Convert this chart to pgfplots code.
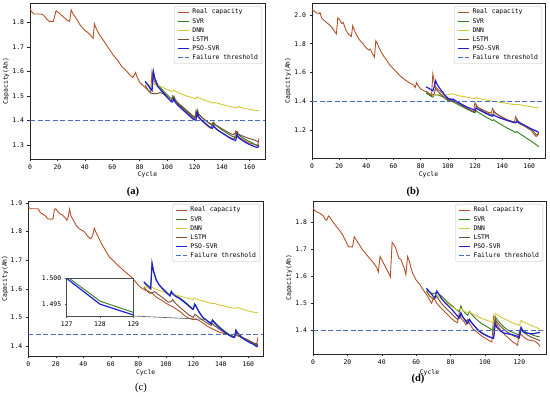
\documentclass[border=0pt]{standalone}
\usepackage{pgfplots}
\pgfplotsset{compat=1.18}
\usepackage{fontspec}
\setmainfont{Liberation Serif}
\newfontfamily\monofont{DejaVu Sans Mono}
\newcommand\tickfont{\monofont\fontsize{6.4bp}{7.5bp}\selectfont}
\definecolor{cReal}{RGB}{180,80,40}
\definecolor{cSVR}{RGB}{52,122,30}
\definecolor{cDNN}{RGB}{214,200,52}
\definecolor{cLSTM}{RGB}{118,78,50}
\definecolor{cPSO}{RGB}{32,32,214}
\definecolor{cThr}{RGB}{74,110,190}
\pgfplotsset{
  myax/.style={
    scale only axis, anchor=north west,
    axis line style={black!85, line width=0.6bp},
    tick style={black!85, line width=0.5bp},
    tick align=outside, major tick length=2.5bp, tick pos=left,
    ticklabel style={font=\tickfont},
    label style={font=\tickfont},
    /pgf/number format/assume math mode=true,
    yticklabel style={/pgf/number format/.cd, fixed, fixed zerofill, precision=1},
    xmin=0,
    legend cell align=left,
    legend style={at={(1,1)}, anchor=north east, xshift=-3bp, yshift=-3bp,
      font=\tickfont, draw=black!25, rounded corners=1.5bp, fill=white,
      inner xsep=2.5bp, inner ysep=1.5bp, row sep=0bp, column sep=2bp,
      nodes={text height=5bp, text depth=1.5bp, inner sep=1.3bp}},
    legend image code/.code={\draw[##1] (0bp,0bp) -- (11bp,0bp);},
    xlabel={Cycle}, ylabel={Capacity(Ah)},
  },
  real/.style={cReal, line width=0.9bp},
  svr/.style={cSVR, line width=0.9bp},
  dnn/.style={cDNN, line width=0.9bp},
  lstm/.style={cLSTM, line width=0.9bp},
  pso/.style={cPSO, line width=1.2bp},
  thr/.style={cThr, line width=1bp, dash pattern=on 5bp off 2.5bp},
}
\begin{document}
\begin{tikzpicture}
\path[use as bounding box] (0,0) rectangle (550bp,397bp);
% ---------------- (a) ----------------
\begin{axis}[myax, at={(30bp,394bp)}, width=235bp, height=156bp,
  xmax=171.4, ymin=1.243, ymax=1.880, xtick={0,20,...,160}, ytick={1.3,1.4,...,1.85},
  xlabel style={at={(axis description cs:0.5,-0.1)}, anchor=center},
  ylabel style={at={(axis description cs:-0.102,0.5)}, anchor=center}]
\addplot[real] coordinates {(0,1.856)(1,1.846)(3,1.835)(8,1.835)(10,1.83)(12,1.815)(14,1.805)(17,1.805)(19,1.848)(21,1.84)(23,1.83)(25,1.82)(27,1.81)(29,1.805)(30,1.852)(32,1.83)(34,1.815)(36,1.795)(38,1.78)(40,1.768)(42,1.76)(44,1.75)(46,1.736)(47,1.795)(48,1.78)(50,1.756)(52,1.74)(55,1.715)(58,1.69)(61,1.665)(64,1.645)(67,1.62)(70,1.605)(73,1.585)(75,1.575)(77,1.596)(78,1.58)(80,1.556)(82,1.545)(84,1.535)(86,1.525)(88,1.515)(89,1.60)(90,1.57)(92,1.545)(94,1.533)(96,1.52)(98,1.508)(100,1.495)(102,1.485)(103,1.478)(104,1.50)(105,1.485)(107,1.47)(110,1.455)(113,1.44)(116,1.425)(119,1.41)(120,1.405)(121,1.44)(122,1.42)(124,1.405)(127,1.39)(130,1.375)(132,1.368)(133,1.39)(134,1.375)(137,1.36)(140,1.35)(143,1.34)(146,1.33)(149,1.325)(150,1.355)(151,1.34)(153,1.33)(156,1.32)(159,1.31)(162,1.305)(165,1.30)(166,1.297)(167,1.327)};
\addplot[svr] coordinates {(84,1.558)(86,1.545)(88,1.53)(89,1.525)(90,1.600)(91,1.575)(93,1.548)(95,1.535)(97,1.523)(99,1.512)(101,1.500)(103,1.490)(104,1.488)(105,1.500)(106,1.485)(108,1.472)(111,1.458)(114,1.443)(117,1.428)(119,1.418)(121,1.412)(122,1.445)(123,1.428)(125,1.415)(128,1.400)(131,1.387)(133,1.380)(134,1.393)(135,1.383)(138,1.370)(141,1.358)(144,1.347)(147,1.337)(150,1.330)(151,1.355)(152,1.342)(155,1.330)(158,1.320)(161,1.312)(164,1.303)(166,1.298)(167,1.302)};
\addplot[dnn] coordinates {(84,1.555)(86,1.548)(88,1.542)(90,1.55)(92,1.545)(95,1.54)(98,1.532)(101,1.525)(103,1.52)(104,1.519)(105,1.525)(106,1.52)(109,1.512)(112,1.505)(115,1.499)(118,1.494)(120,1.490)(121,1.489)(122,1.497)(123,1.493)(126,1.486)(129,1.480)(132,1.474)(134,1.471)(135,1.474)(138,1.469)(141,1.464)(144,1.46)(147,1.456)(150,1.452)(151,1.452)(152,1.458)(153,1.455)(156,1.45)(159,1.447)(162,1.444)(165,1.441)(167,1.440)};
\addplot[lstm] coordinates {(84,1.545)(86,1.525)(88,1.512)(90,1.510)(93,1.510)(95,1.515)(97,1.51)(99,1.50)(101,1.49)(103,1.48)(105,1.492)(106,1.482)(108,1.468)(111,1.455)(114,1.44)(117,1.425)(120,1.412)(122,1.438)(123,1.425)(126,1.41)(129,1.397)(132,1.385)(134,1.39)(136,1.38)(139,1.37)(142,1.36)(145,1.35)(148,1.342)(151,1.355)(152,1.345)(155,1.337)(158,1.33)(161,1.325)(164,1.32)(167,1.312)};
\addplot[pso] coordinates {(84,1.560)(86,1.545)(88,1.528)(89,1.522)(90,1.600)(91,1.572)(93,1.542)(95,1.528)(97,1.515)(99,1.503)(101,1.490)(103,1.478)(104,1.476)(105,1.490)(106,1.474)(108,1.461)(111,1.446)(114,1.431)(117,1.416)(119,1.406)(121,1.400)(122,1.432)(123,1.415)(125,1.403)(128,1.388)(131,1.374)(133,1.368)(134,1.380)(135,1.370)(138,1.357)(141,1.346)(144,1.335)(147,1.325)(150,1.318)(151,1.343)(152,1.330)(155,1.318)(158,1.308)(161,1.300)(164,1.293)(166,1.290)(167,1.298)};
\addplot[thr] coordinates {(0,1.4)(171.4,1.4)};
\legend{Real capacity,SVR,DNN,LSTM,PSO-SVR,Failure threshold}
\end{axis}
% ---------------- (b) ----------------
\begin{axis}[myax, at={(312bp,394bp)}, width=233bp, height=155bp,
  xmax=171.6, ymin=1.005, ymax=2.083, xtick={0,20,...,160}, ytick={1.2,1.4,...,2.05},
  xlabel style={at={(axis description cs:0.5,-0.105)}, anchor=center},
  ylabel style={at={(axis description cs:-0.103,0.5)}, anchor=center}]
\addplot[real] coordinates {(0,2.035)(1,2.03)(3,2.015)(5,2.01)(6,2.015)(7,1.98)(9,1.962)(11,1.945)(13,1.93)(15,1.91)(17,1.88)(18,1.868)(19,1.98)(20,1.972)(21,1.955)(22,1.94)(23,1.948)(24,1.92)(25,1.895)(27,1.865)(29,1.85)(30,1.925)(31,1.9)(32,1.875)(34,1.84)(36,1.815)(38,1.795)(40,1.77)(42,1.755)(43,1.762)(44,1.74)(46,1.706)(47,1.82)(48,1.805)(49,1.78)(51,1.74)(53,1.71)(55,1.685)(57,1.655)(59,1.635)(61,1.615)(63,1.595)(65,1.575)(67,1.56)(69,1.545)(71,1.532)(73,1.522)(75,1.51)(76,1.495)(77,1.528)(78,1.51)(80,1.485)(82,1.475)(84,1.465)(86,1.447)(88,1.435)(89,1.59)(90,1.535)(91,1.5)(93,1.48)(95,1.465)(97,1.45)(99,1.43)(100,1.415)(101,1.412)(102,1.42)(103,1.41)(105,1.398)(108,1.385)(111,1.37)(114,1.35)(117,1.335)(119,1.328)(120,1.39)(121,1.375)(122,1.36)(124,1.348)(126,1.34)(128,1.33)(130,1.322)(132,1.318)(133,1.35)(134,1.33)(136,1.312)(138,1.3)(140,1.29)(142,1.28)(144,1.27)(146,1.265)(148,1.258)(149,1.255)(150,1.293)(151,1.27)(152,1.248)(154,1.238)(156,1.228)(158,1.218)(160,1.205)(162,1.195)(163,1.175)(165,1.155)(166,1.16)(167,1.178)};
\addplot[svr] coordinates {(84,1.455)(86,1.445)(88,1.432)(89,1.428)(90,1.44)(92,1.445)(94,1.44)(96,1.432)(98,1.42)(100,1.405)(102,1.398)(103,1.405)(104,1.395)(107,1.38)(110,1.365)(113,1.35)(116,1.336)(119,1.323)(120,1.32)(121,1.335)(122,1.325)(125,1.308)(128,1.29)(131,1.275)(133,1.265)(134,1.272)(135,1.262)(138,1.245)(141,1.228)(144,1.212)(147,1.198)(150,1.182)(151,1.19)(152,1.18)(155,1.162)(158,1.143)(161,1.125)(164,1.105)(166,1.09)(167,1.085)};
\addplot[dnn] coordinates {(84,1.465)(86,1.455)(88,1.445)(90,1.44)(92,1.445)(95,1.445)(98,1.445)(100,1.445)(102,1.45)(103,1.452)(104,1.45)(107,1.44)(110,1.435)(113,1.43)(116,1.425)(119,1.42)(120,1.418)(121,1.425)(122,1.42)(125,1.414)(128,1.408)(131,1.403)(134,1.398)(137,1.394)(140,1.39)(143,1.386)(146,1.381)(149,1.377)(150,1.376)(151,1.379)(152,1.377)(155,1.372)(158,1.367)(161,1.362)(164,1.357)(167,1.353)};
\addplot[lstm] coordinates {(84,1.47)(86,1.455)(88,1.44)(90,1.45)(91,1.49)(92,1.475)(94,1.455)(96,1.44)(98,1.425)(100,1.41)(102,1.4)(104,1.395)(105,1.405)(106,1.395)(109,1.38)(112,1.362)(115,1.345)(118,1.33)(120,1.325)(121,1.37)(122,1.36)(124,1.342)(127,1.327)(130,1.313)(133,1.305)(134,1.33)(135,1.318)(138,1.298)(141,1.283)(144,1.268)(147,1.256)(150,1.25)(151,1.275)(152,1.26)(155,1.24)(158,1.222)(161,1.205)(163,1.19)(165,1.168)(166,1.165)(167,1.18)};
\addplot[pso] coordinates {(84,1.50)(86,1.49)(88,1.478)(89,1.472)(90,1.50)(91,1.543)(92,1.52)(94,1.49)(96,1.465)(98,1.44)(100,1.422)(102,1.41)(103,1.41)(104,1.415)(105,1.408)(108,1.39)(111,1.375)(114,1.36)(117,1.348)(120,1.338)(121,1.352)(122,1.345)(125,1.33)(128,1.315)(131,1.302)(133,1.295)(134,1.305)(135,1.297)(138,1.285)(141,1.275)(144,1.265)(147,1.257)(150,1.25)(151,1.26)(152,1.252)(155,1.24)(158,1.225)(161,1.21)(164,1.197)(166,1.188)(167,1.182)};
\addplot[thr] coordinates {(0,1.4)(171.6,1.4)};
\legend{Real capacity,SVR,DNN,LSTM,PSO-SVR,Failure threshold}
\end{axis}
% ---------------- (c) ----------------
\begin{axis}[myax, at={(28.3bp,196bp)}, width=234.7bp, height=155bp,
  xmax=170.7, ymin=1.365, ymax=1.907, xtick={0,20,...,160}, ytick={1.4,1.5,...,1.95},
  xlabel style={at={(axis description cs:0.5,-0.106)}, anchor=center},
  ylabel style={at={(axis description cs:-0.099,0.5)}, anchor=center}]
\addplot[real] coordinates {(0,1.885)(2,1.88)(4,1.88)(7,1.88)(9,1.865)(11,1.86)(13,1.853)(14,1.845)(17,1.843)(18,1.845)(19,1.878)(20,1.88)(21,1.872)(23,1.862)(25,1.858)(26,1.852)(27,1.848)(28,1.84)(29,1.85)(30,1.878)(31,1.855)(33,1.838)(35,1.82)(37,1.81)(39,1.805)(41,1.798)(43,1.785)(45,1.775)(46,1.778)(47,1.79)(48,1.812)(49,1.8)(51,1.78)(53,1.76)(56,1.735)(59,1.711)(62,1.697)(65,1.683)(68,1.67)(71,1.657)(74,1.645)(76,1.636)(78,1.625)(80,1.612)(82,1.604)(84,1.598)(86,1.594)(88,1.59)(90,1.585)(92,1.575)(94,1.568)(97,1.56)(100,1.55)(103,1.542)(105,1.537)(108,1.528)(111,1.518)(114,1.505)(117,1.497)(120,1.492)(122,1.493)(124,1.49)(127,1.48)(130,1.47)(133,1.462)(136,1.455)(139,1.448)(142,1.444)(145,1.44)(148,1.434)(150,1.432)(151,1.448)(152,1.438)(155,1.43)(158,1.425)(161,1.418)(164,1.41)(166,1.404)(167,1.43)};
\addplot[svr] coordinates {(84,1.622)(86,1.612)(88,1.605)(89,1.60)(90,1.685)(91,1.66)(93,1.63)(95,1.615)(97,1.605)(99,1.596)(101,1.587)(103,1.578)(104,1.592)(105,1.585)(107,1.577)(110,1.569)(113,1.558)(116,1.546)(119,1.533)(120,1.531)(121,1.548)(122,1.541)(124,1.522)(126,1.507)(127,1.5004)(128,1.4956)(129,1.4934)(131,1.486)(133,1.481)(134,1.492)(135,1.486)(137,1.476)(140,1.463)(143,1.451)(146,1.441)(148,1.436)(150,1.433)(151,1.456)(152,1.448)(155,1.433)(158,1.424)(161,1.416)(164,1.408)(166,1.403)(167,1.406)};
\addplot[dnn] coordinates {(84,1.61)(86,1.605)(88,1.60)(90,1.605)(92,1.6)(95,1.595)(98,1.59)(100,1.587)(103,1.583)(104,1.585)(106,1.58)(109,1.576)(112,1.572)(115,1.568)(118,1.565)(120,1.563)(121,1.567)(122,1.565)(125,1.56)(128,1.556)(131,1.552)(134,1.548)(135,1.55)(137,1.546)(140,1.542)(143,1.539)(146,1.535)(149,1.532)(151,1.532)(152,1.535)(153,1.533)(156,1.528)(159,1.524)(162,1.52)(165,1.517)(167,1.518)};
\addplot[lstm] coordinates {(84,1.605)(86,1.595)(88,1.585)(90,1.585)(92,1.59)(94,1.582)(96,1.575)(98,1.568)(100,1.56)(102,1.553)(104,1.555)(105,1.562)(106,1.555)(108,1.545)(111,1.532)(114,1.52)(117,1.508)(120,1.5)(121,1.51)(122,1.508)(124,1.5)(127,1.49)(130,1.48)(133,1.472)(134,1.478)(135,1.472)(138,1.462)(141,1.452)(144,1.443)(147,1.436)(150,1.43)(151,1.44)(152,1.436)(155,1.43)(158,1.424)(161,1.418)(164,1.41)(167,1.407)};
\addplot[pso] coordinates {(84,1.625)(86,1.615)(88,1.606)(89,1.60)(90,1.69)(91,1.665)(93,1.632)(95,1.615)(97,1.603)(99,1.593)(101,1.584)(103,1.575)(104,1.59)(105,1.582)(107,1.574)(110,1.566)(113,1.555)(116,1.543)(119,1.53)(120,1.528)(121,1.545)(122,1.538)(124,1.52)(126,1.506)(127,1.5000)(128,1.4950)(129,1.4929)(131,1.484)(133,1.478)(134,1.49)(135,1.483)(137,1.472)(140,1.46)(143,1.448)(146,1.438)(148,1.432)(150,1.43)(151,1.455)(152,1.446)(155,1.43)(158,1.42)(161,1.412)(164,1.405)(166,1.398)(167,1.402)};
\addplot[thr] coordinates {(0,1.44)(170.7,1.44)};
\legend{Real capacity,SVR,DNN,LSTM,PSO-SVR,Failure threshold}
\coordinate (connpt) at (axis cs:129,1.4929);
\end{axis}
% inset
\begin{axis}[scale only axis, anchor=north west, at={(66.7bp,118.5bp)}, width=66.6bp, height=37.5bp,
  xmin=127, xmax=129, ymin=1.4927, ymax=1.5,
  xtick={127,128,129}, ytick={1.495,1.500},
  axis background/.style={fill=white},
  axis line style={black!70, line width=0.6bp},
  tick style={black!70, line width=0.5bp}, tick align=outside, major tick length=2bp, tick pos=left,
  ticklabel style={font=\tickfont},
  /pgf/number format/assume math mode=true,
  yticklabel style={/pgf/number format/.cd, fixed, fixed zerofill, precision=3},
  xticklabel style={/pgf/number format/.cd, fixed, precision=0}]
\addplot[svr] coordinates {(127,1.5004)(128,1.4956)(129,1.4934)};
\addplot[pso] coordinates {(127,1.5000)(128,1.4950)(129,1.4929)};
\coordinate (insetSE) at (rel axis cs:1,0);
\end{axis}
\draw[black!65, line width=0.6bp] (insetSE) -- (connpt);
% ---------------- (d) ----------------
\begin{axis}[myax, at={(313bp,196bp)}, width=233bp, height=153bp,
  xmax=135.5, ymin=1.3125, ymax=1.877, xtick={0,20,...,120}, ytick={1.4,1.5,...,1.85},
  xlabel style={at={(axis description cs:0.5,-0.12)}, anchor=center},
  ylabel style={at={(axis description cs:-0.103,0.5)}, anchor=center}]
\addplot[real] coordinates {(0,1.849)(2,1.837)(4,1.832)(6,1.822)(7,1.81)(8,1.806)(9,1.822)(10,1.815)(11,1.805)(13,1.788)(15,1.772)(17,1.755)(19,1.73)(20,1.715)(21,1.708)(23,1.708)(24,1.745)(25,1.735)(27,1.715)(29,1.695)(31,1.68)(33,1.665)(35,1.65)(37,1.632)(38,1.615)(39,1.672)(40,1.66)(42,1.635)(44,1.612)(45,1.597)(46,1.724)(47,1.716)(48,1.705)(49,1.685)(50,1.665)(51,1.663)(53,1.63)(54,1.605)(55,1.672)(56,1.655)(57,1.63)(58,1.61)(60,1.585)(62,1.57)(64,1.55)(66,1.532)(68,1.51)(69,1.50)(70,1.518)(71,1.51)(72,1.50)(74,1.485)(76,1.472)(78,1.46)(80,1.447)(82,1.435)(84,1.428)(85,1.462)(86,1.445)(88,1.43)(89,1.42)(90,1.44)(91,1.425)(93,1.405)(95,1.395)(97,1.385)(99,1.375)(101,1.368)(103,1.36)(104,1.357)(105,1.45)(106,1.435)(108,1.41)(110,1.395)(112,1.38)(114,1.37)(116,1.358)(118,1.35)(119,1.345)(120,1.40)(121,1.385)(123,1.372)(125,1.365)(127,1.362)(129,1.36)(131,1.35)(132,1.34)};
\addplot[svr] coordinates {(66,1.55)(68,1.54)(70,1.535)(72,1.54)(73,1.535)(75,1.525)(77,1.512)(79,1.5)(81,1.49)(83,1.478)(85,1.468)(86,1.49)(87,1.475)(89,1.46)(90,1.455)(91,1.47)(92,1.46)(94,1.447)(96,1.435)(98,1.425)(100,1.418)(102,1.41)(104,1.402)(105,1.40)(106,1.45)(107,1.44)(109,1.425)(111,1.412)(113,1.402)(115,1.395)(117,1.39)(119,1.385)(120,1.383)(121,1.41)(122,1.40)(124,1.393)(126,1.387)(128,1.382)(130,1.378)(132,1.375)};
\addplot[dnn] coordinates {(66,1.54)(68,1.525)(70,1.52)(72,1.53)(74,1.52)(76,1.51)(78,1.5)(80,1.49)(82,1.482)(84,1.475)(86,1.48)(88,1.47)(90,1.465)(91,1.468)(93,1.46)(95,1.453)(97,1.447)(99,1.442)(101,1.437)(103,1.432)(105,1.428)(106,1.462)(107,1.458)(109,1.45)(111,1.443)(113,1.437)(115,1.43)(117,1.425)(119,1.42)(120,1.418)(121,1.437)(122,1.432)(124,1.426)(126,1.42)(128,1.415)(130,1.41)(132,1.404)};
\addplot[lstm] coordinates {(66,1.545)(68,1.525)(70,1.515)(72,1.525)(74,1.505)(76,1.49)(78,1.477)(80,1.465)(82,1.452)(84,1.44)(86,1.455)(87,1.45)(89,1.435)(91,1.44)(92,1.43)(94,1.415)(96,1.402)(98,1.392)(100,1.385)(102,1.378)(104,1.372)(105,1.37)(106,1.44)(107,1.43)(109,1.415)(111,1.403)(113,1.393)(115,1.385)(117,1.378)(119,1.372)(120,1.37)(121,1.405)(122,1.395)(124,1.385)(126,1.378)(128,1.372)(130,1.367)(132,1.362)};
\addplot[pso] coordinates {(66,1.555)(68,1.54)(70,1.525)(71,1.52)(72,1.545)(73,1.535)(75,1.515)(77,1.50)(79,1.488)(81,1.475)(83,1.46)(85,1.445)(86,1.465)(87,1.45)(89,1.432)(90,1.425)(91,1.44)(92,1.43)(94,1.415)(96,1.40)(98,1.39)(100,1.383)(102,1.377)(104,1.372)(105,1.37)(106,1.425)(107,1.41)(109,1.397)(111,1.39)(113,1.387)(115,1.385)(117,1.382)(119,1.378)(120,1.375)(121,1.41)(122,1.395)(124,1.39)(126,1.388)(128,1.387)(130,1.39)(132,1.392)};
\addplot[thr] coordinates {(0,1.4)(135.5,1.4)};
\legend{Real capacity,SVR,DNN,LSTM,PSO-SVR,Failure threshold}
\end{axis}
% captions
\node[font=\fontsize{10.5bp}{12bp}\selectfont\bfseries] at (133bp,205bp) {(a)};
\node[font=\fontsize{10.5bp}{12bp}\selectfont\bfseries] at (413bp,205bp) {(b)};
\node[font=\fontsize{10.5bp}{12bp}\selectfont] at (141bp,9bp) {(c)};
\node[font=\fontsize{10.5bp}{12bp}\selectfont\bfseries] at (418bp,18bp) {(d)};
\end{tikzpicture}
\end{document}
